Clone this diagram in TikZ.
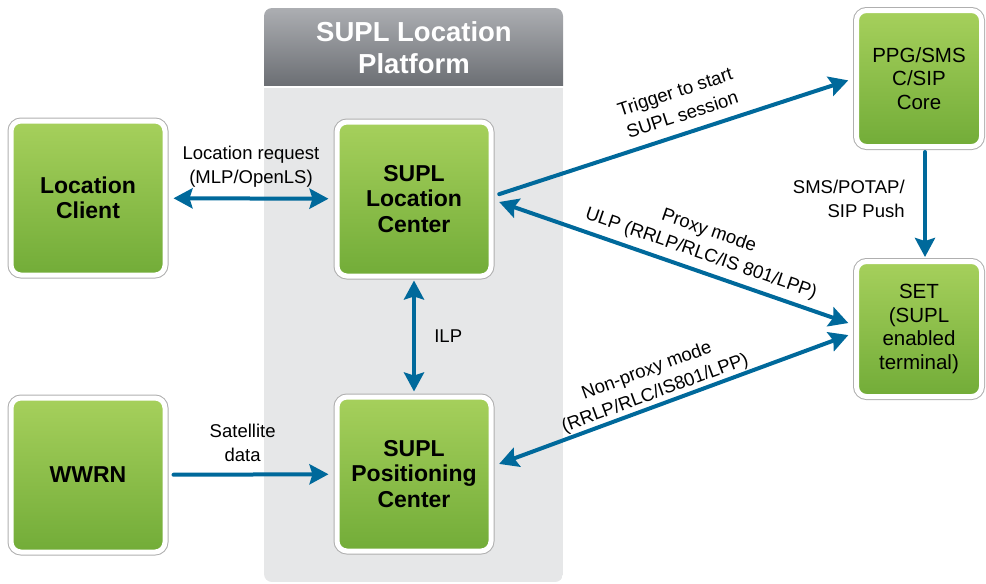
\documentclass[tikz,border=0pt]{standalone}
\usepackage{fontspec}
\setmainfont{Liberation Sans}
\usetikzlibrary{arrows.meta}

\definecolor{arrowblue}{RGB}{0,105,155}
\definecolor{platgray}{RGB}{230,231,232}
\definecolor{hdtop}{RGB}{172,174,178}
\definecolor{hdbot}{RGB}{108,111,116}
\definecolor{greentop}{RGB}{166,208,92}
\definecolor{greenmid}{RGB}{134,189,68}
\definecolor{greenbot}{RGB}{114,172,56}
\definecolor{boxgray}{RGB}{175,175,175}

\begin{document}
\begin{tikzpicture}[x=1pt, y=-1pt,
    box/.style={rectangle, rounded corners=10pt, draw=white, line width=5pt,
        preaction={draw=boxgray, line width=7pt},
        top color=greentop, middle color=greenmid, bottom color=greenbot,
        minimum width=154pt, minimum height=154pt, align=center, text=black,
        font=\fontsize{23}{25.5}\selectfont\bfseries},
    smallbox/.style={box, minimum width=125pt, minimum height=136pt,
        font=\fontsize{20.5}{23.5}\selectfont},
    lbl/.style={font=\fontsize{18.5}{24}\selectfont, align=center, text=black,
        line width=0pt},
    flow/.style={draw=arrowblue, line width=4pt, line cap=round,
        shorten >=6pt, shorten <=6pt},
    >={Stealth[length=19pt, width=20pt, inset=3pt]}]

    \useasboundingbox (0,0) rectangle (986,584);

    % platform background
    \begin{scope}
        \clip[rounded corners=8pt] (264,8) rectangle (563,582);
        \shade[top color=hdtop, bottom color=hdbot] (264,8) rectangle (563,85);
        \fill[platgray] (264,88) rectangle (563,582);
    \end{scope}
    \node[font=\fontsize{27.5}{32}\selectfont\bfseries, text=white, align=center]
        (plattitle) at (414,48) {SUPL Location\\Platform};

    \node[box] (lc) at (88,198) {Location\\Client};
    \node[box] (wwrn) at (88,475) {WWRN};
    \node[box] (slc) at (414,199) {SUPL\\Location\\Center};
    \node[box] (spc) at (414,474) {SUPL\\Positioning\\Center};
    \node[smallbox] (ppg) at (919,78.5) {PPG/SMS\\C/SIP\\Core};
    \node[smallbox, minimum height=135pt] (set) at (919,329) {SET\\(SUPL\\enabled\\terminal)};

    \draw[flow, <->] (lc) -- (slc)
        node[lbl, midway, above=8pt] {Location request\\(MLP/OpenLS)};
    \draw[flow, ->] (wwrn) -- (spc)
        node[lbl, pos=0.45, above=10pt] {Satellite\\data};
    \draw[flow, <->, shorten >=3pt, shorten <=2pt] (slc) -- (spc)
        node[lbl, midway, right=17pt] {ILP};
    \draw[flow, ->] ([yshift=3pt]slc.east) -- (ppg.west)
        node[lbl, sloped, pos=0.54, above=9pt] {Trigger to start\\SUPL session};
    \draw[flow, <->] ([yshift=-1pt]slc.east) -- ([yshift=4pt]set.west)
        node[lbl, sloped, pos=0.56, above=5pt] {Proxy mode\\ULP (RRLP/RLC/IS 801/LPP)};
    \draw[flow, <->] ([yshift=8pt]spc.east) -- ([yshift=-4pt]set.west)
        node[lbl, sloped, pos=0.46, above=0pt] {Non-proxy mode\\(RRLP/RLC/IS801/LPP)};
    \draw[flow, ->, shorten <=3pt, shorten >=2pt] ([xshift=6pt]ppg.south) -- ([xshift=6pt]set.north)
        node[lbl, pos=0.45, left=17pt, align=right] {SMS/POTAP/\\SIP Push};
\end{tikzpicture}
\end{document}
